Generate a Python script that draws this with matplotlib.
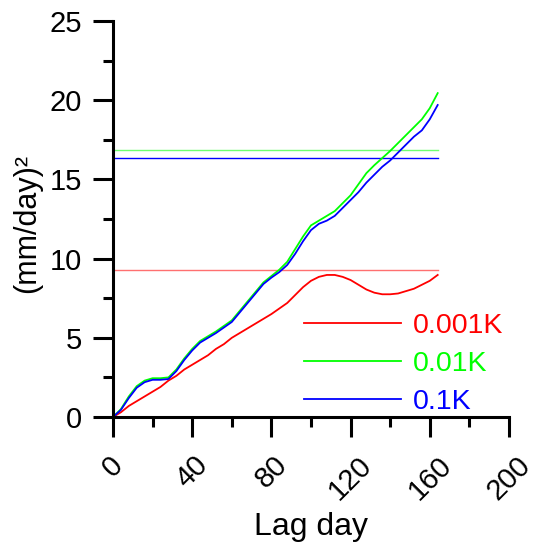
import matplotlib
matplotlib.use("Agg")
import matplotlib.pyplot as plt
from matplotlib.ticker import MultipleLocator

plt.rcParams['font.family'] = ['Liberation Sans', 'DejaVu Sans']

# lag days (every 4 days)
lag = [0, 4, 8, 12, 16, 20, 24, 28, 32, 36, 40, 44, 48, 52, 56, 60, 64, 68, 72, 76,
       80, 84, 88, 92, 96, 100, 104, 108, 112, 116, 120, 124, 128, 132, 136, 140,
       144, 148, 152, 156, 160, 164]

k001 = [0, 0.3, 0.7, 1.0, 1.3, 1.6, 1.9, 2.3, 2.6, 3.0, 3.3, 3.6, 3.9, 4.3, 4.6, 5.0,
        5.3, 5.6, 5.9, 6.2, 6.5, 6.85, 7.2, 7.7, 8.2, 8.6, 8.85, 8.97, 8.97, 8.85,
        8.65, 8.35, 8.05, 7.85, 7.75, 7.75, 7.8, 7.95, 8.1, 8.35, 8.6, 8.97]
k01 = [0, 0.5, 1.3, 1.95, 2.3, 2.45, 2.45, 2.5, 3.0, 3.7, 4.3, 4.8, 5.1, 5.4, 5.75, 6.1,
       6.7, 7.3, 7.9, 8.5, 8.9, 9.3, 9.8, 10.6, 11.4, 12.1, 12.4, 12.7, 13.0, 13.5,
       14.0, 14.7, 15.4, 15.9, 16.35, 16.8, 17.3, 17.8, 18.3, 18.8, 19.5, 20.45]
k1 = [0, 0.45, 1.2, 1.85, 2.2, 2.35, 2.35, 2.4, 2.9, 3.6, 4.2, 4.7, 5.0, 5.3, 5.65, 6.0,
      6.6, 7.2, 7.8, 8.4, 8.8, 9.15, 9.6, 10.3, 11.1, 11.8, 12.2, 12.4, 12.7, 13.2,
      13.7, 14.2, 14.8, 15.3, 15.8, 16.2, 16.7, 17.2, 17.7, 18.1, 18.8, 19.7]

# horizontal reference levels
levels = [9.3, 16.86, 16.33]
labels = ['0.001K', '0.01K', '0.1K']
colors = ['#ff0000', '#00ff00', '#0000ff']
level_colors = ['#ff7070', '#70ff70', '#0000ff']

fig = plt.figure(figsize=(5.37, 5.53), dpi=100)
ax = fig.add_axes([0.2104, 0.2459, 0.7374, 0.716])

for lev, c in zip(levels, level_colors):
    ax.plot([0, lag[-1]], [lev, lev], color=c, lw=1.0)

for y, lab, c in zip([k001, k01, k1], labels, colors):
    ax.plot(lag, y, color=c, lw=1.3, label=lab)

ax.set_xlim(0, 200)
ax.set_ylim(0, 25)
ax.xaxis.set_major_locator(MultipleLocator(40))
ax.xaxis.set_minor_locator(MultipleLocator(20))
ax.yaxis.set_major_locator(MultipleLocator(5))
ax.yaxis.set_minor_locator(MultipleLocator(2.5))

for s in ['top', 'right']:
    ax.spines[s].set_visible(False)
for s in ['left', 'bottom']:
    ax.spines[s].set_linewidth(2.2)

ax.tick_params(which='major', direction='out', length=14.5, width=2.2, labelsize=21)
ax.tick_params(which='minor', direction='out', length=7.5, width=2.2)
ax.tick_params(axis='x', which='major', pad=10)
ax.tick_params(axis='y', which='major', pad=8)
plt.setp(ax.get_xticklabels(), rotation=45, ha='center')

ax.set_xlabel('Lag day', fontsize=23)
ax.set_ylabel('(mm/day)²', fontsize=22)
ax.xaxis.set_label_coords(0.5, -0.24)
ax.yaxis.set_label_coords(-0.178, 0.49)

leg = ax.legend(loc='upper right', bbox_to_anchor=(0.985, 0.262), frameon=False,
                fontsize=20.5, handlelength=3.4, handletextpad=0.4,
                labelspacing=0.42, borderpad=0, borderaxespad=0,
                labelcolor='linecolor')

fig.savefig('out.png', dpi=100)
